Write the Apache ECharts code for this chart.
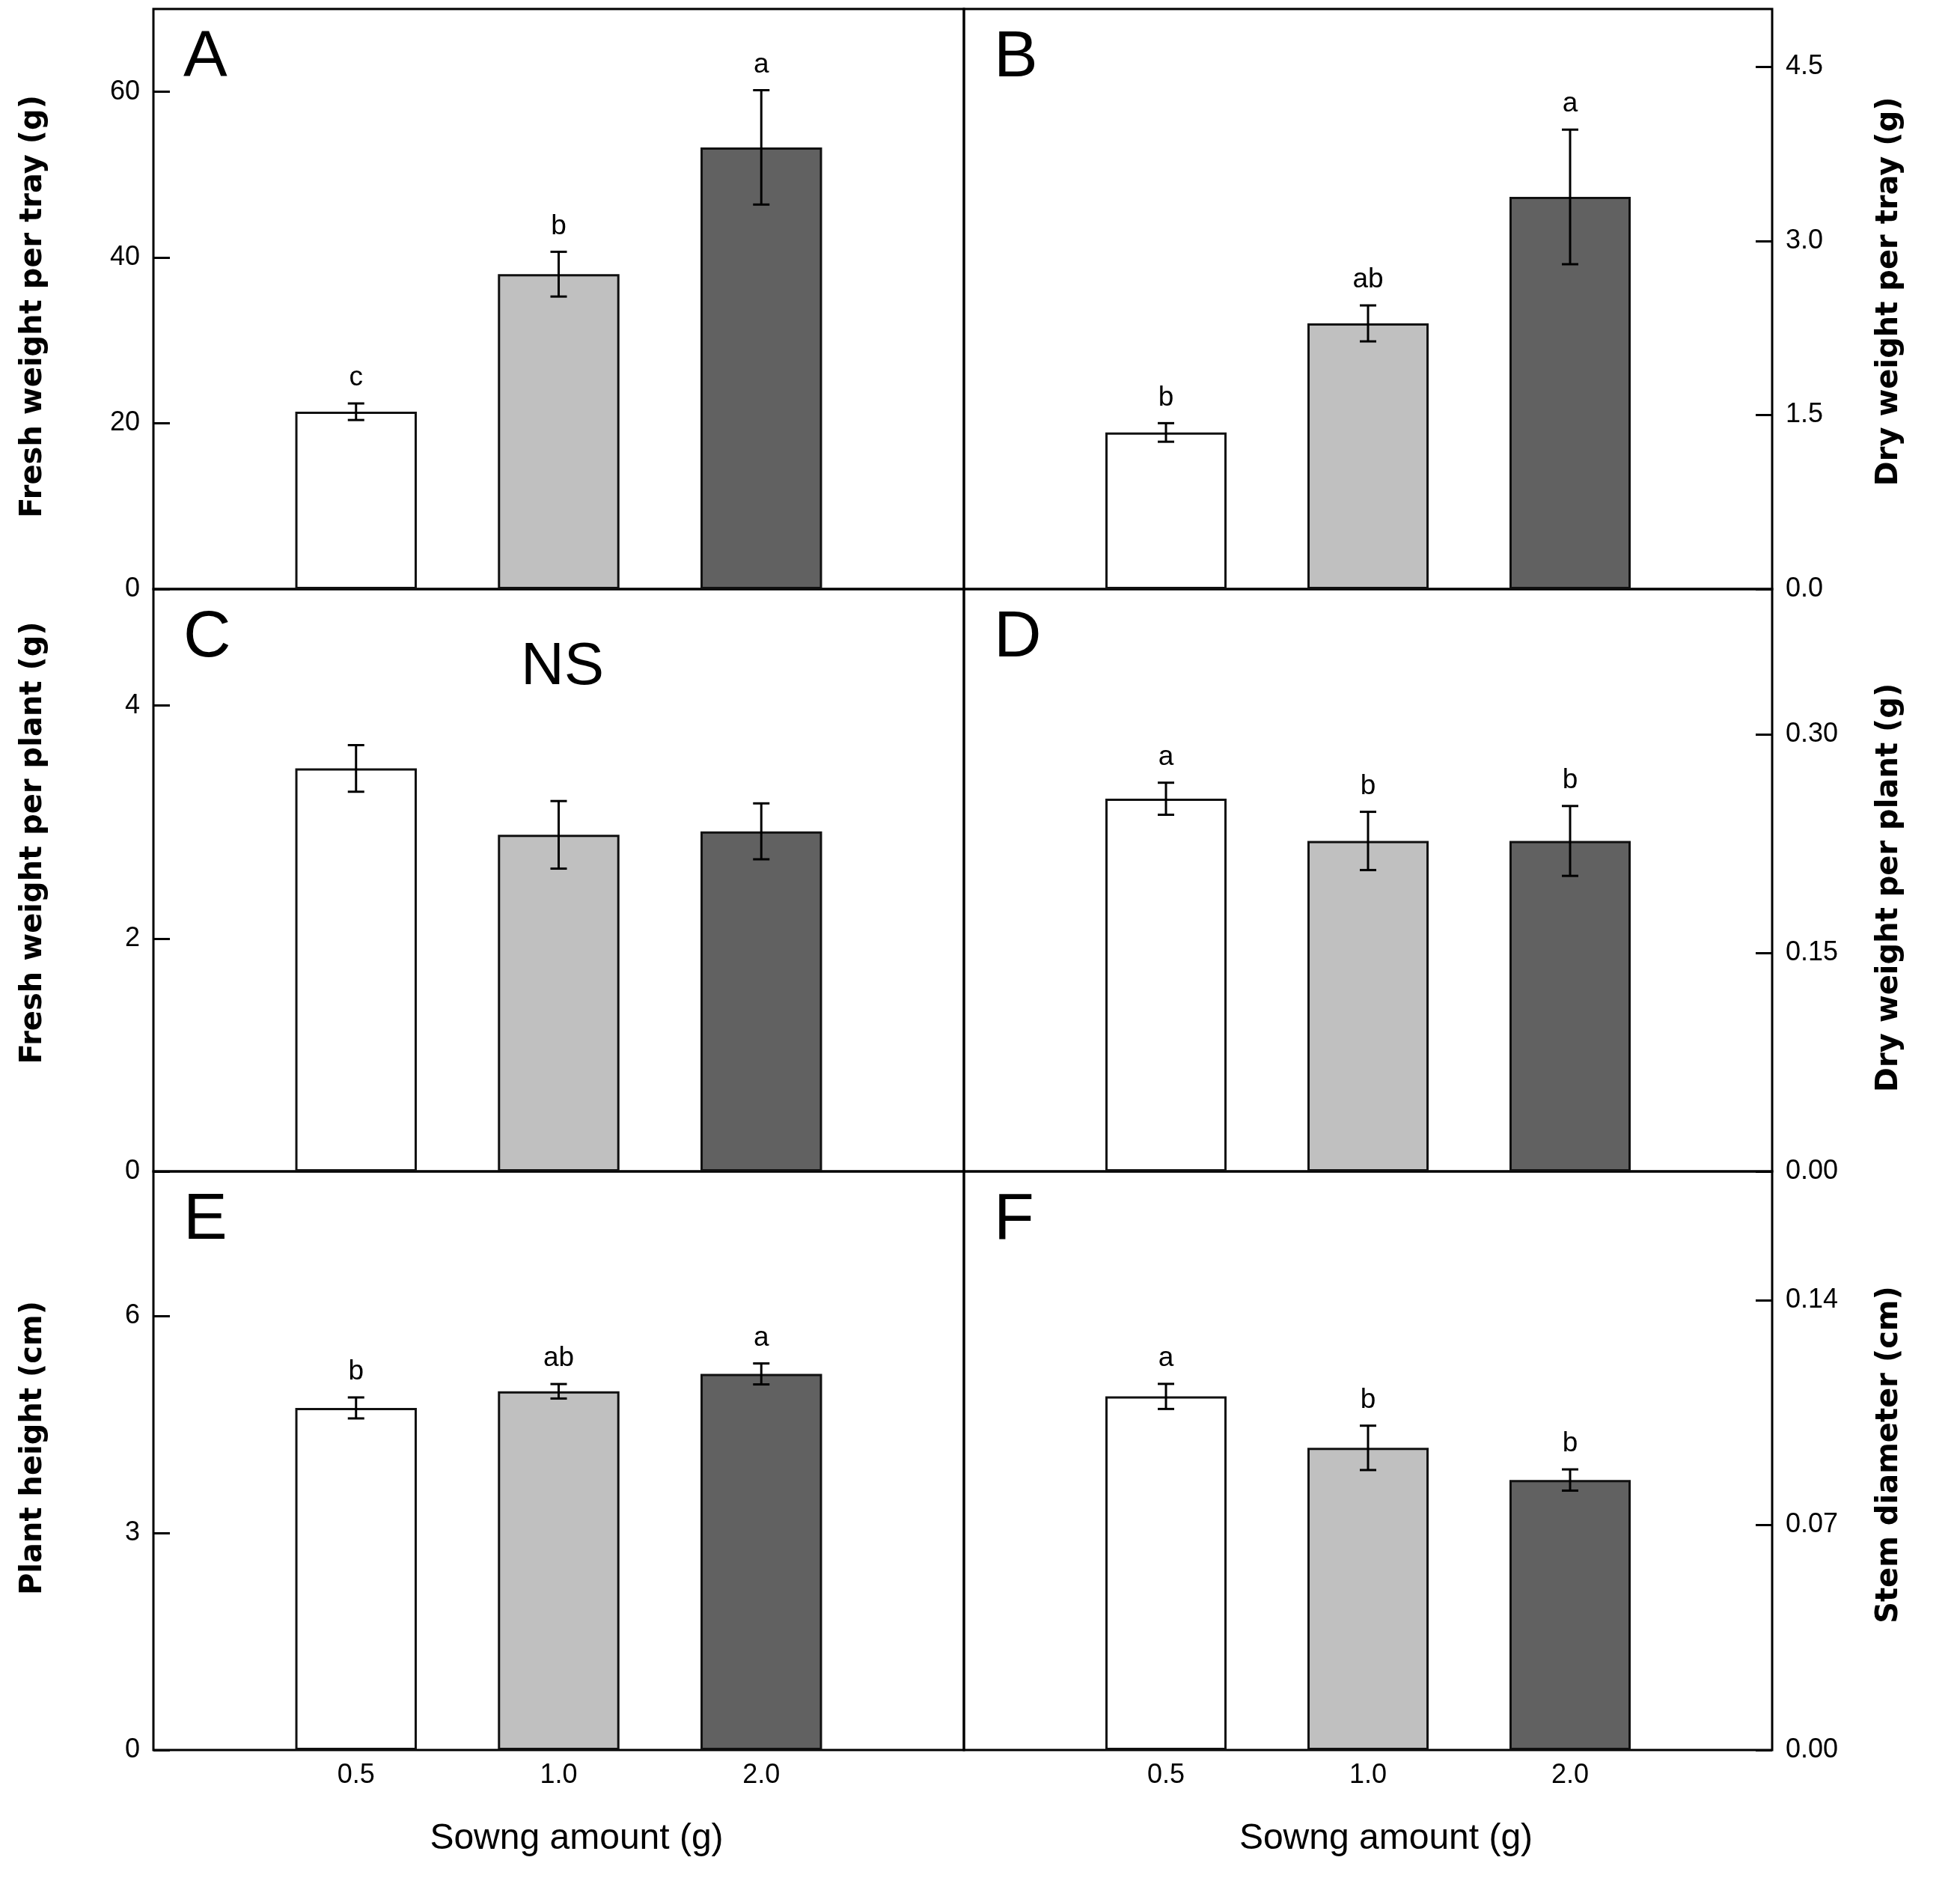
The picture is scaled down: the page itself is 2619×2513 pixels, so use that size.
<!DOCTYPE html>
<html>
<head>
<meta charset="utf-8">
<script src="https://cdn.jsdelivr.net/npm/echarts@6/dist/echarts.min.js"></script>
<style>
  html, body { margin: 0; padding: 0; background: #fff; }
  #chart { width: 2619px; height: 2513px; }
</style>
</head>
<body>
<div id="chart"></div>
<script>
// ---------------- data ----------------
const sowing = ['0.5', '1.0', '2.0'];
const xAxisTitle = 'Sowng amount (g)';

const freshTray        = [21.4, 38.0, 53.3];
const freshTrayErr     = [1.0, 2.7, 6.9];
const freshTrayLetters = ['c', 'b', 'a'];

const dryTray          = [1.35, 2.29, 3.38];
const dryTrayErr       = [0.08, 0.155, 0.58];
const dryTrayLetters   = ['b', 'ab', 'a'];

const freshPlant        = [3.46, 2.89, 2.92];
const freshPlantErr     = [0.20, 0.29, 0.24];
const freshPlantLetters = ['', '', ''];
const freshPlantNote    = 'NS';

const dryPlant          = [0.256, 0.227, 0.227];
const dryPlantErr       = [0.011, 0.020, 0.024];
const dryPlantLetters   = ['a', 'b', 'b'];

const plantHeight        = [4.73, 4.96, 5.20];
const plantHeightErr     = [0.145, 0.10, 0.145];
const plantHeightLetters = ['b', 'ab', 'a'];

const stemDiameter        = [0.110, 0.094, 0.084];
const stemDiameterErr     = [0.0039, 0.0069, 0.0033];
const stemDiameterLetters = ['a', 'b', 'b'];

// axis ticks: [max, interval, decimals]
const ticksA = [70, 20, 0];
const ticksB = [5.0, 1.5, 1];
const ticksC = [5, 2, 0];
const ticksD = [0.40, 0.15, 2];
const ticksE = [8, 3, 0];
const ticksF = [0.18, 0.07, 2];

// ---------------- styling / layout ----------------
const barColors = ['#ffffff', '#c0c0c0', '#616161'];
const ARIAL = "'Liberation Sans', Arial, Helvetica, sans-serif";
const TITLEFONT = "'DejaVu Sans', 'Noto Sans', sans-serif";
const cols = [{ left: 205, right: 1331 }, { left: 1288, right: 251 }];
const rows = [{ top: 12, height: 775 }, { top: 787, height: 778 }, { top: 1565, height: 773 }];

const panels = [
  { tag: 'A', col: 0, row: 0, values: freshTray, errors: freshTrayErr, letters: freshTrayLetters, ticks: ticksA, name: 'Fresh weight per tray (g)', shift: [0, 20] },
  { tag: 'B', col: 1, row: 0, values: dryTray, errors: dryTrayErr, letters: dryTrayLetters, ticks: ticksB, name: 'Dry weight per tray (g)', shift: [20, 0] },
  { tag: 'C', col: 0, row: 1, values: freshPlant, errors: freshPlantErr, letters: freshPlantLetters, ticks: ticksC, name: 'Fresh weight per plant (g)', shift: [100, 0], note: freshPlantNote },
  { tag: 'D', col: 1, row: 1, values: dryPlant, errors: dryPlantErr, letters: dryPlantLetters, ticks: ticksD, name: 'Dry weight per plant (g)', shift: [0, 20] },
  { tag: 'E', col: 0, row: 2, values: plantHeight, errors: plantHeightErr, letters: plantHeightLetters, ticks: ticksE, name: 'Plant height (cm)', shift: [34, 0] },
  { tag: 'F', col: 1, row: 2, values: stemDiameter, errors: stemDiameterErr, letters: stemDiameterLetters, ticks: ticksF, name: 'Stem diameter (cm)', shift: [16, 0] }
];

const axisCats = [''].concat(sowing, ['']);

const grid = [], xAxis = [], yAxis = [], series = [], graphic = [];

panels.forEach((p, i) => {
  const c = cols[p.col], r = rows[p.row];
  const isRight = p.col === 1;
  const isBottom = p.row === 2;
  grid.push({
    left: c.left, right: c.right, top: r.top, height: r.height,
    show: true, borderColor: '#000', borderWidth: 3, backgroundColor: 'transparent'
  });
  xAxis.push({
    type: 'category', gridIndex: i, data: axisCats, boundaryGap: false,
    axisLine: { show: false }, axisTick: { show: false },
    axisLabel: { show: isBottom, margin: 16, fontSize: 36, fontFamily: ARIAL, color: '#000' },
    name: isBottom ? xAxisTitle : '', nameLocation: 'middle', nameGap: 95,
    nameTextStyle: { fontSize: 48, fontFamily: ARIAL, color: '#000', padding: [0, 0, 0, 48] },
    splitLine: { show: false }
  });
  const [mx, iv, dec] = p.ticks;
  yAxis.push({
    type: 'value', gridIndex: i, min: 0, max: mx, interval: iv,
    position: isRight ? 'right' : 'left',
    axisLine: { show: false },
    axisTick: { show: true, inside: true, length: 22, lineStyle: { color: '#000', width: 3 } },
    axisLabel: {
      showMaxLabel: false, margin: 18, fontSize: 36, fontFamily: ARIAL, color: '#000',
      formatter: v => Number(v).toFixed(dec)
    },
    splitLine: { show: false },
    name: p.name, nameLocation: 'middle', nameRotate: 90, nameGap: isRight ? 137 : 140,
    nameTextStyle: { fontSize: 40, fontWeight: 'bold', fontFamily: TITLEFONT, color: '#000', padding: [0, p.shift[1], 0, p.shift[0]] }
  });
  series.push({
    type: 'bar', xAxisIndex: i, yAxisIndex: i, barWidth: '60%',
    data: ['-'].concat(p.values.map((v, k) => ({ value: v, itemStyle: { color: barColors[k] } })), ['-']),
    itemStyle: { borderColor: '#111', borderWidth: 3 },
    silent: true, animation: false, z: 2
  });
  const letters = p.letters;
  series.push({
    type: 'custom', xAxisIndex: i, yAxisIndex: i, z: 5, silent: true, animation: false,
    encode: { x: 0, y: 1 },
    data: p.values.map((v, k) => [k + 1, v, p.errors[k]]),
    renderItem: (params, api) => {
      const x = api.value(0), v = api.value(1), e = api.value(2);
      const t = api.coord([x, v + e]);
      const b = api.coord([x, v - e]);
      const hw = 11;
      const ls = { stroke: '#000', lineWidth: 3 };
      const children = [
        { type: 'line', shape: { x1: t[0], y1: t[1], x2: b[0], y2: b[1] }, style: ls },
        { type: 'line', shape: { x1: t[0] - hw, y1: t[1], x2: t[0] + hw, y2: t[1] }, style: ls },
        { type: 'line', shape: { x1: b[0] - hw, y1: b[1], x2: b[0] + hw, y2: b[1] }, style: ls }
      ];
      const L = letters[params.dataIndex];
      if (L) {
        children.push({
          type: 'text',
          style: { text: L, x: t[0], y: t[1] - 34, align: 'center', verticalAlign: 'middle',
                   fontSize: 37, fontFamily: ARIAL, fill: '#000' }
        });
      }
      return { type: 'group', children };
    }
  });
  graphic.push({
    type: 'text', left: c.left + 40, top: r.top + 66 - 44,
    style: { text: p.tag, fontSize: 88, fontFamily: ARIAL, fill: '#000' }
  });
  if (p.note) {
    graphic.push({
      type: 'text', left: 696, top: r.top + 107 - 42,
      style: { text: p.note, fontSize: 80, fontFamily: ARIAL, fill: '#000' }
    });
  }
});

const chart = echarts.init(document.getElementById('chart'), null, { renderer: 'canvas' });
chart.setOption({
  backgroundColor: '#fff',
  animation: false,
  grid, xAxis, yAxis, series, graphic
});
</script>
</body>
</html>
